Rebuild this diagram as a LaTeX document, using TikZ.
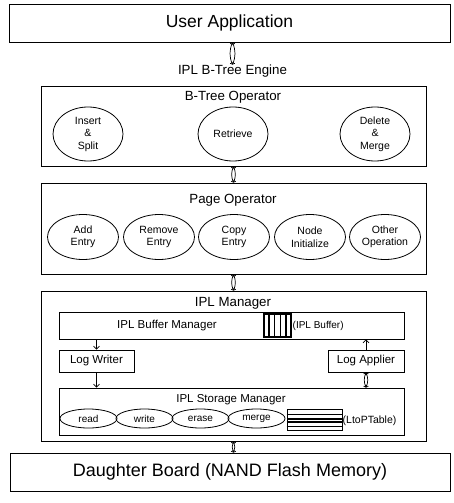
\documentclass[tikz,border=0pt]{standalone}
\usepackage{fontspec}
\setmainfont{Liberation Sans}
\usetikzlibrary{shapes.geometric,arrows.meta,calc}
\tikzset{
  box/.style={draw, line width=0.9pt, inner sep=0pt},
  bigtext/.style={font=\fontsize{17.5}{20}\selectfont},
  titletext/.style={font=\fontsize{13.3}{15}\selectfont, inner sep=0pt},
  subtext/.style={font=\fontsize{11.5}{13}\selectfont},
  smalltext/.style={font=\fontsize{10}{12}\selectfont, inner sep=0pt},
  oval/.style={draw, ellipse, line width=0.8pt, inner sep=0pt, align=center,
               font=\fontsize{10.5}{12.5}\selectfont},
  smalloval/.style={draw, ellipse, line width=0.8pt, inner sep=0pt,
               font=\fontsize{10}{12}\selectfont, minimum width=57pt, minimum height=19pt},
  lens/.style={line width=0.7pt, {Straight Barb[length=1.6pt,width=3.5pt]}-{Straight Barb[length=1.6pt,width=3.5pt]}},
  onearrow/.style={line width=0.7pt, -{Straight Barb[length=3pt,width=6pt]}},
  glyph/.style={draw, line width=1.1pt, inner sep=0pt},
}
\newcommand{\lensarrow}[2]{%
  \draw[lens] (#1) to[bend left=22] (#2);
  \draw[lens] (#1) to[bend right=22] (#2);}
\begin{document}
\begin{tikzpicture}[x=1pt,y=-1pt]
\useasboundingbox (0,0) rectangle (453,503);

% top and bottom boxes
\node[box, bigtext, minimum width=441pt, minimum height=38pt] (ua) at (229.5,23) {User Application};
\node[box, bigtext, font=\fontsize{18}{20}\selectfont, minimum width=440pt, minimum height=38pt] (db) at (230,472) {Daughter Board (NAND Flash Memory)};

\node[titletext] (eng) at (232.5,71) {IPL B-Tree Engine};

% B-Tree operator
\node[box, minimum width=385pt, minimum height=80pt] (bt) at (233.5,126) {};
\node[titletext] (btt) at (233,97) {B-Tree Operator};
\node[oval, minimum width=70pt, minimum height=54pt] (ins) at (88,134) {Insert\\\&\\Split};
\node[oval, minimum width=70pt, minimum height=54pt] (ret) at (233,134) {Retrieve};
\node[oval, minimum width=70pt, minimum height=54pt] (del) at (375,134) {Delete\\\&\\Merge};

% Page operator
\node[box, minimum width=385pt, minimum height=91pt] (po) at (233.5,228.5) {};
\node[titletext] (pot) at (233,200) {Page Operator};
\node[oval, minimum width=71pt, minimum height=45pt] (add) at (83,237) {Add\\Entry};
\node[oval, minimum width=71pt, minimum height=45pt] (rem) at (159,237) {Remove\\Entry};
\node[oval, minimum width=71pt, minimum height=45pt] (cop) at (234,237) {Copy\\Entry};
\node[oval, minimum width=71pt, minimum height=45pt] (ini) at (310,237) {Node\\Initialize};
\node[oval, minimum width=71pt, minimum height=45pt] (oth) at (385,237) {Other\\Operation};

% IPL manager
\node[box, minimum width=385pt, minimum height=150pt] (ipl) at (233.5,366) {};
\node[titletext] (iplt) at (233,303) {IPL Manager};

\node[box, minimum width=345pt, minimum height=27pt] (bm) at (231.5,325.5) {};
\node[subtext] (bmt) at (167,325.5) {IPL Buffer Manager};
\node[glyph, minimum width=27pt, minimum height=23pt] (buf) at (277.5,325.5) {};
\foreach \f in {0.2,0.4,0.6,0.8}
  \draw[line width=1.2pt] ($(buf.north west)!\f!(buf.north east)$) -- ($(buf.south west)!\f!(buf.south east)$);
\node[smalltext, anchor=west] (buft) at (292.5,325.5) {(IPL Buffer)};

\node[box, subtext, minimum width=75pt, minimum height=22pt] (lw) at (96.5,361) {Log Writer};
\node[box, subtext, minimum width=76pt, minimum height=22pt] (la) at (366,361) {Log Applier};

\node[box, minimum width=345pt, minimum height=47pt] (sm) at (231.5,411.5) {};
\node[subtext, inner sep=0pt] (smt) at (231,400) {IPL Storage Manager};
\node[smalloval] (rd) at (88.5,418.5) {read};
\node[smalloval] (wr) at (144.5,418.5) {write};
\node[smalloval] (er) at (200.5,418.5) {erase};
\node[smalloval] (mg) at (256.5,418.5) {merge};
\node[glyph, line width=0.9pt, minimum width=55pt, minimum height=21pt] (tbl) at (314.5,420) {};
\foreach \f/\w in {0.25/0.9pt,0.45/1.4pt,0.6/1.4pt,0.8/0.9pt}
  \draw[line width=\w] ($(tbl.north west)!\f!(tbl.south west)$) -- ($(tbl.north east)!\f!(tbl.south east)$);
\node[font=\fontsize{10.5}{12}\selectfont, inner sep=0pt, anchor=west] (tblt) at (342.5,420.5) {(LtoPTable)};

% connectors
\lensarrow{ua.south -| eng.north}{eng.north}
\lensarrow{bt.south}{po.north}
\lensarrow{po.south}{ipl.north}
\lensarrow{ipl.south}{ipl.south |- db.north}
\draw[onearrow] (lw.north |- bm.south) -- (lw.north);
\draw[onearrow] (lw.south) -- (lw.south |- sm.north);
\draw[onearrow] (la.north) -- (la.north |- bm.south);
\lensarrow{la.south}{la.south |- sm.north}
\end{tikzpicture}
\end{document}
